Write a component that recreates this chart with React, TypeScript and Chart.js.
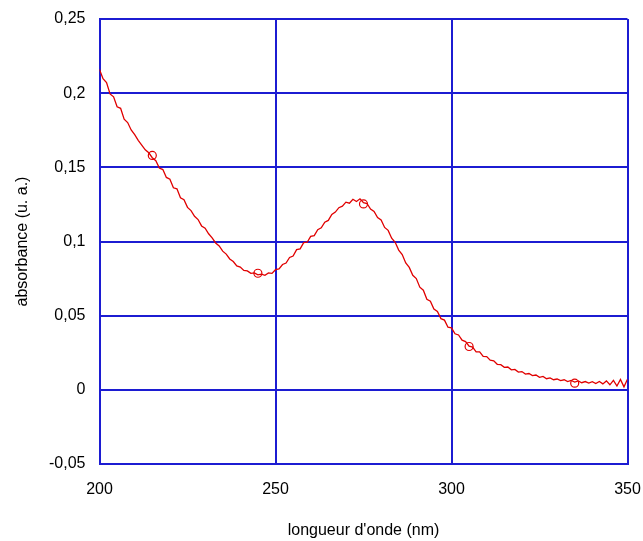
import React, { useEffect, useRef } from "react";
import { Chart, registerables } from "chart.js";

Chart.register(...registerables);

const wavelengthStart = 200;
const absorbance: number[] = [
  0.2160, 0.2098, 0.2072, 0.1995, 0.1975, 0.1908, 0.1898, 0.1825, 0.1802, 0.1752,
  0.1720, 0.1682, 0.1650, 0.1618, 0.1598, 0.1565, 0.1545, 0.1495, 0.1485, 0.1432,
  0.1420, 0.1362, 0.1355, 0.1295, 0.1282, 0.1230, 0.1208, 0.1170, 0.1148, 0.1105,
  0.1090, 0.1052, 0.1025, 0.0990, 0.0970, 0.0935, 0.0915, 0.0882, 0.0865, 0.0835,
  0.0828, 0.0805, 0.0802, 0.0785, 0.0788, 0.0775, 0.0780, 0.0772, 0.0788, 0.0785,
  0.0810, 0.0815, 0.0845, 0.0855, 0.0892, 0.0902, 0.0945, 0.0950, 0.0992, 0.0995,
  0.1035, 0.1040, 0.1080, 0.1092, 0.1130, 0.1142, 0.1182, 0.1198, 0.1228, 0.1238,
  0.1265, 0.1258, 0.1285, 0.1270, 0.1288, 0.1262, 0.1256, 0.1218, 0.1202, 0.1162,
  0.1145, 0.1095, 0.1075, 0.1022, 0.0995, 0.0942, 0.0912, 0.0855, 0.0825, 0.0772,
  0.0750, 0.0692, 0.0672, 0.0610, 0.0598, 0.0545, 0.0528, 0.0480, 0.0470, 0.0422,
  0.0418, 0.0378, 0.0370, 0.0335, 0.0325, 0.0295, 0.0288, 0.0256, 0.0256, 0.0225,
  0.0224, 0.0200, 0.0196, 0.0172, 0.0170, 0.0152, 0.0154, 0.0135, 0.0138, 0.0120,
  0.0123, 0.0106, 0.0110, 0.0096, 0.0100, 0.0084, 0.0090, 0.0075, 0.0080, 0.0068,
  0.0073, 0.0062, 0.0068, 0.0056, 0.0063, 0.0052, 0.0060, 0.0048, 0.0056, 0.0046,
  0.0055, 0.0042, 0.0056, 0.0040, 0.0060, 0.0034, 0.0064, 0.0026, 0.0070, 0.0020,
  0.0072,
];

const markerWavelengths: number[] = [215, 245, 275, 305, 335];
const markerValues: number[] = [0.158, 0.0786, 0.1253, 0.0292, 0.0045];

const xTicks: number[] = [200, 250, 300, 350];
const yMin = -0.05;
const yMax = 0.25;
const yStep = 0.05;

const xTitle = "longueur d'onde (nm)";
const yTitle = "absorbance (u. a.)";

const FONT = "'Liberation Sans', Arial, Helvetica, sans-serif";
const GRID = "#1c1cd2";
const RED = "#e00000";

export default function App() {
  const ref = useRef<HTMLCanvasElement | null>(null);

  useEffect(() => {
    if (!ref.current) return;
    const spectrum = absorbance.map((v, i) => ({ x: wavelengthStart + i, y: v }));
    const markers = markerWavelengths.map((x, i) => ({ x, y: markerValues[i] }));
    const chart = new Chart(ref.current, {
      type: "scatter",
      data: {
        datasets: [
          {
            data: spectrum,
            showLine: true,
            borderColor: RED,
            borderWidth: 1.3,
            pointRadius: 0,
            tension: 0,
          },
          {
            data: markers,
            showLine: false,
            pointRadius: 4,
            pointStyle: "circle",
            borderColor: RED,
            backgroundColor: "rgba(0,0,0,0)",
            borderWidth: 1.2,
          },
        ],
      },
      options: {
        animation: false,
        responsive: false,
        maintainAspectRatio: false,
        layout: { padding: { left: 0, right: 15.5, top: 19, bottom: 0 } },
        plugins: { legend: { display: false }, tooltip: { enabled: false } },
        scales: {
          x: {
            type: "linear",
            min: xTicks[0],
            max: xTicks[xTicks.length - 1],
            afterBuildTicks: (s: any) => {
              s.ticks = xTicks.map((v) => ({ value: v }));
            },
            afterFit: (s: any) => {
              s.height = 77;
              s.paddingLeft = 0;
              s.paddingRight = 0;
              s.paddingTop = 0;
              s.paddingBottom = 0;
            },
            grid: { color: GRID, lineWidth: 2, drawTicks: false },
            border: { color: GRID, width: 2 },
            ticks: {
              color: "#000",
              padding: 16,
              maxRotation: 0,
              font: { family: FONT, size: 16 },
            },
            title: {
              display: true,
              text: xTitle,
              color: "#000",
              font: { family: FONT, size: 16 },
              padding: { top: 0, bottom: 1 },
            },
          },
          y: {
            type: "linear",
            min: yMin,
            max: yMax,
            ticks: {
              stepSize: yStep,
              color: "#000",
              padding: 14,
              font: { family: FONT, size: 16 },
              callback: (v: any) => {
                const r = Math.round(Number(v) * 100) / 100;
                return String(r).replace(".", ",");
              },
            },
            afterFit: (s: any) => {
              s.width = 99.5;
              s.paddingLeft = 0;
              s.paddingRight = 0;
              s.paddingTop = 0;
              s.paddingBottom = 0;
            },
            grid: { color: GRID, lineWidth: 2, drawTicks: false },
            border: { color: GRID, width: 2 },
            title: {
              display: true,
              text: yTitle,
              color: "#000",
              font: { family: FONT, size: 16 },
              padding: { top: 13, bottom: 0 },
            },
          },
        },
      },
    });
    return () => chart.destroy();
  }, []);

  return (
    <div style={{ position: "absolute", left: 0, top: 0, width: 643, height: 541, background: "#fff" }}>
      <canvas ref={ref} width={643} height={541} style={{ width: 643, height: 541 }} />
    </div>
  );
}
